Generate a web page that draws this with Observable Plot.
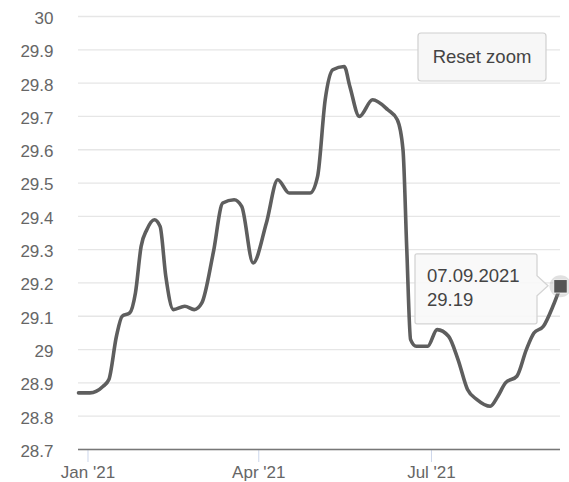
<!DOCTYPE html>
<html>
<head>
<meta charset="utf-8">
<script src="https://cdn.jsdelivr.net/npm/d3@7"></script>
<script src="https://cdn.jsdelivr.net/npm/@observablehq/plot@0.6"></script>
<style>
  html, body { margin: 0; padding: 0; background: #fff; }
  #chart { position: relative; width: 569px; height: 482px; }
</style>
</head>
<body>
<div id="chart"></div>
<script>
const dates = [
  "2020-12-27","2021-01-02","2021-01-09","2021-01-12","2021-01-16","2021-01-19","2021-01-23",
  "2021-01-26","2021-01-29","2021-02-01","2021-02-05","2021-02-08","2021-02-11","2021-02-15",
  "2021-02-21","2021-02-26","2021-03-02","2021-03-08","2021-03-13","2021-03-19","2021-03-23",
  "2021-03-29","2021-04-05","2021-04-11","2021-04-17","2021-04-28","2021-05-02","2021-05-06",
  "2021-05-10","2021-05-16","2021-05-19","2021-05-24","2021-05-31","2021-06-08","2021-06-13",
  "2021-06-16","2021-06-18","2021-06-20","2021-06-23","2021-06-29","2021-07-04","2021-07-10",
  "2021-07-15","2021-07-20","2021-07-25","2021-08-01","2021-08-05","2021-08-09","2021-08-15",
  "2021-08-20","2021-08-24","2021-08-29","2021-09-03","2021-09-07"
];
const values = [
  28.87, 28.87, 28.89, 28.91, 29.04, 29.10, 29.11,
  29.17, 29.31, 29.36, 29.39, 29.37, 29.22, 29.12,
  29.13, 29.12, 29.14, 29.29, 29.44, 29.45, 29.43,
  29.26, 29.38, 29.51, 29.47, 29.47, 29.52, 29.75,
  29.84, 29.85, 29.79, 29.70, 29.75, 29.72, 29.69,
  29.60, 29.30, 29.03, 29.01, 29.01, 29.06, 29.04,
  28.97, 28.88, 28.85, 28.83, 28.86, 28.90, 28.92,
  29.00, 29.05, 29.07, 29.13, 29.19
];
const yTicks = [28.7, 28.8, 28.9, 29, 29.1, 29.2, 29.3, 29.4, 29.5, 29.6, 29.7, 29.8, 29.9, 30];
const xTickDates = ["2021-01-01", "2021-04-01", "2021-07-01"];
const xTickLabels = ["Jan '21", "Apr '21", "Jul '21"];
const xDomain = ["2020-12-27", "2021-09-07"];
const yDomain = [28.7, 30];
const buttonLabel = "Reset zoom";

const data = dates.map((d, i) => ({date: new Date(d + "T00:00:00Z"), value: values[i]}));
const last = data[data.length - 1];
const xTicks = xTickDates.map(d => new Date(d + "T00:00:00Z"));
const font = "'Liberation Sans', Arial, Helvetica, sans-serif";

const chart = Plot.plot({
  width: 569,
  height: 482,
  marginLeft: 78,
  marginRight: 9,
  marginTop: 16,
  marginBottom: 33,
  style: {fontFamily: font, background: "#fff", overflow: "visible"},
  x: {type: "utc", domain: xDomain.map(d => new Date(d + "T00:00:00Z"))},
  y: {domain: yDomain},
  marks: [
    Plot.gridY(yTicks, {stroke: "#e6e6e6", strokeOpacity: 1, strokeWidth: 1.3}),
    Plot.axisY(yTicks, {
      tickSize: 0, tickPadding: 25, fontSize: 17, fill: "#666", dy: 2,
      tickFormat: d => String(+d.toFixed(1)), label: null
    }),
    Plot.axisX(xTicks, {
      tickSize: 13, tickPadding: 3, fontSize: 17, fill: "#666", stroke: "#ccd6eb",
      tickFormat: (d, i) => xTickLabels[i], label: null
    }),
    Plot.ruleY([yDomain[0]], {stroke: "#777", strokeWidth: 1.5}),
    Plot.line(data, {x: "date", y: "value", curve: "monotone-x", stroke: "#5e5e5e", strokeWidth: 3.6}),
    Plot.dot([last], {x: "date", y: "value", r: 11, fill: "#999", fillOpacity: 0.3, stroke: "none"}),
    Plot.dot([last], {x: "date", y: "value", symbol: "square", r: 7.6, fill: "#555", stroke: "#fff", strokeWidth: 0.8})
  ]
});

document.getElementById("chart").appendChild(chart);

// Tooltip anchored to the last data point via the plot's scales
const px = chart.scale("x").apply(last.date);
const py = chart.scale("y").apply(last.value);
const svg = d3.select(chart);
const tip = svg.append("g").attr("text-anchor", "start");
const fmt = d3.utcFormat("%d.%m.%Y");
const bl = px - 145, br = px - 23, bt = py - 32, bb = py + 38;
tip.append("path")
  .attr("d", `M${bl + 2},${bt} H${br - 2} Q${br},${bt} ${br},${bt + 2} V${py - 10} L${px - 12},${py} L${br},${py + 10} V${bb - 2} Q${br},${bb} ${br - 2},${bb} H${bl + 2} Q${bl},${bb} ${bl},${bb - 2} V${bt + 2} Q${bl},${bt} ${bl + 2},${bt} Z`)
  .attr("fill", "rgba(248,248,248,0.9)")
  .attr("stroke", "#d4d4d4")
  .attr("stroke-width", 1.3);
tip.append("text")
  .attr("x", px - 133).attr("y", py - 9)
  .attr("text-anchor", "start")
  .attr("dominant-baseline", "middle")
  .attr("font-size", 18.5).attr("fill", "#444")
  .attr("font-family", font)
  .text(fmt(last.date));
tip.append("text")
  .attr("x", px - 133).attr("y", py + 15)
  .attr("text-anchor", "start")
  .attr("dominant-baseline", "middle")
  .attr("font-size", 18.5).attr("fill", "#444")
  .attr("font-family", font)
  .text(last.value.toFixed(2));

// Reset zoom button (UI chrome)
const btn = svg.append("g");
btn.append("rect")
  .attr("x", 418).attr("y", 33).attr("width", 128).attr("height", 48)
  .attr("rx", 3).attr("fill", "#f7f7f7").attr("stroke", "#d0d0d0").attr("stroke-width", 1.2);
btn.append("text")
  .attr("x", 482).attr("y", 58)
  .attr("text-anchor", "middle").attr("dominant-baseline", "middle")
  .attr("font-size", 18.5).attr("fill", "#444").attr("font-family", font)
  .text(buttonLabel);
</script>
</body>
</html>
